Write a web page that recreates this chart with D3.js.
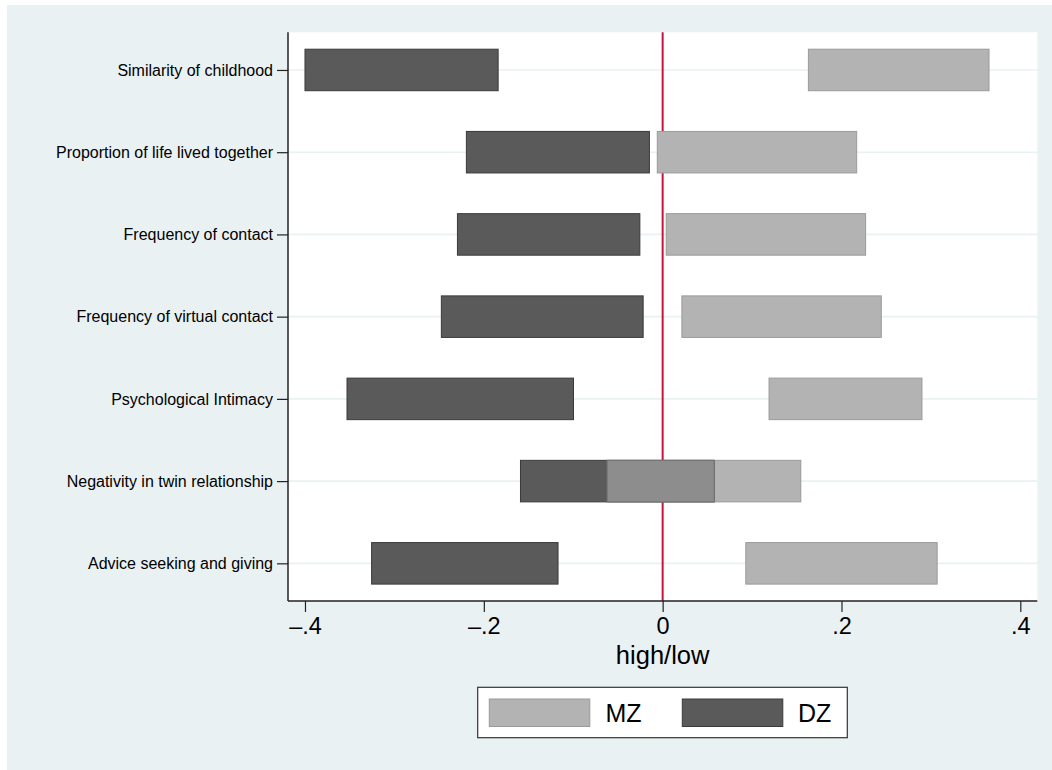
<!DOCTYPE html>
<html>
<head>
<meta charset="utf-8">
<script src="https://cdn.jsdelivr.net/npm/d3@7"></script>
<style>
  html, body { margin: 0; padding: 0; background: #ffffff; }
  svg { display: block; }
  text { font-family: "Liberation Sans", Arial, Helvetica, sans-serif; fill: #000; }
</style>
</head>
<body>
<svg id="chart" width="1052" height="770"></svg>
<script>
// Twin relationship measures, high/low ranges by zygosity
const categories = [
  "Similarity of childhood",
  "Proportion of life lived together",
  "Frequency of contact",
  "Frequency of virtual contact",
  "Psychological Intimacy",
  "Negativity in twin relationship",
  "Advice seeking and giving"
];
const mzLow  = [0.163, -0.006, 0.004, 0.0215, 0.119, -0.062, 0.093];
const mzHigh = [0.365,  0.217, 0.227, 0.2445, 0.290,  0.1545, 0.307];
const dzLow  = [-0.400, -0.2195, -0.2295, -0.2475, -0.353, -0.159, -0.3255];
const dzHigh = [-0.184, -0.0148, -0.0255, -0.0218, -0.0997, 0.0576, -0.117];
const tickValues = [-0.4, -0.2, 0, 0.2, 0.4];
const tickLabels = ["\u2013.4", "\u2013.2", "0", ".2", ".4"];
const seriesNames = ["MZ", "DZ"];

const svg = d3.select("#chart");

const outer = { x0: 7, y0: 5, x1: 1052, y1: 770 };
const plot = { left: 288, right: 1037.3, top: 32.3, bottom: 601 };

const colors = {
  bg: "#eaf1f3",
  mz: "#b3b3b3", mzStroke: "#9a9a9a",
  dz: "#5a5a5a", dzStroke: "#3a3a3a",
  both: "#8d8d8d", bothStroke: "#777777",
  grid: "#eaf1f3",
  ref: "#c8143c",
  axis: "#222222"
};

// outer graph region
svg.append("rect")
  .attr("x", outer.x0).attr("y", outer.y0)
  .attr("width", outer.x1 - outer.x0).attr("height", outer.y1 - outer.y0)
  .attr("fill", colors.bg);

// plot region
svg.append("rect")
  .attr("x", plot.left).attr("y", plot.top)
  .attr("width", plot.right - plot.left).attr("height", plot.bottom - plot.top)
  .attr("fill", "#ffffff");

const x = d3.scaleLinear().domain([-0.419, 0.419]).range([plot.left, plot.right]);
const y = d3.scalePoint().domain(categories).range([plot.top, plot.bottom]).padding(0.458);
const barH = y.step() * 0.505;

// horizontal grid lines at each category
svg.append("g").selectAll("line").data(categories).join("line")
  .attr("x1", plot.left).attr("x2", plot.right)
  .attr("y1", d => y(d)).attr("y2", d => y(d))
  .attr("stroke", colors.grid).attr("stroke-width", 1.6);

// reference line at zero
svg.append("line")
  .attr("x1", x(0)).attr("x2", x(0))
  .attr("y1", plot.top).attr("y2", plot.bottom)
  .attr("stroke", colors.ref).attr("stroke-width", 2);

const rows = categories.map((c, i) => ({
  c, mz: [mzLow[i], mzHigh[i]], dz: [dzLow[i], dzHigh[i]]
}));

function bars(cls, get, fill, stroke) {
  svg.append("g").attr("class", cls).selectAll("rect").data(rows.filter(r => get(r)[1] > get(r)[0])).join("rect")
    .attr("x", r => x(get(r)[0]))
    .attr("width", r => x(get(r)[1]) - x(get(r)[0]))
    .attr("y", r => y(r.c) - barH / 2)
    .attr("height", barH)
    .attr("fill", fill).attr("stroke", stroke).attr("stroke-width", 1);
}

bars("mz", r => r.mz, colors.mz, colors.mzStroke);
bars("dz", r => r.dz, colors.dz, colors.dzStroke);
// where the two ranges overlap
bars("both", r => [Math.max(r.mz[0], r.dz[0]), Math.min(r.mz[1], r.dz[1])], colors.both, colors.bothStroke);

// y axis
const yAxis = d3.axisLeft(y).tickSize(11).tickPadding(4);
const gy = svg.append("g").attr("transform", `translate(${plot.left},0)`).call(yAxis);
gy.select(".domain").attr("stroke", colors.axis).attr("stroke-width", 1.5)
  .attr("d", `M0,${plot.top}V${plot.bottom}`);
gy.selectAll(".tick line").attr("stroke", colors.axis).attr("stroke-width", 1.2);
gy.selectAll(".tick text").attr("font-size", 16)
  .attr("font-family", "'Liberation Sans', Arial, sans-serif").attr("fill", "#111");

// x axis
const xAxis = d3.axisBottom(x).tickValues(tickValues)
  .tickFormat((d, i) => tickLabels[i]).tickSize(11).tickPadding(5);
const gx = svg.append("g").attr("transform", `translate(0,${plot.bottom})`).call(xAxis);
gx.select(".domain").attr("stroke", colors.axis).attr("stroke-width", 1.5)
  .attr("d", `M${plot.left},0H${plot.right}`);
gx.selectAll(".tick line").attr("stroke", colors.axis).attr("stroke-width", 1.2);
gx.selectAll(".tick text").attr("font-size", 23.5)
  .attr("font-family", "'Liberation Sans', Arial, sans-serif").attr("fill", "#000");

svg.append("text")
  .attr("x", x(0)).attr("y", 664)
  .attr("text-anchor", "middle").attr("font-size", 25.5)
  .text("high/low");

// legend
const legend = svg.append("g");
legend.append("rect")
  .attr("x", 477.7).attr("y", 687.3).attr("width", 369.6).attr("height", 50.4)
  .attr("fill", "#ffffff").attr("stroke", "#333333").attr("stroke-width", 1.2);
const legendItems = [
  { name: seriesNames[0], fill: colors.mz, stroke: colors.mzStroke, x: 489.3, tx: 605.5 },
  { name: seriesNames[1], fill: colors.dz, stroke: colors.dzStroke, x: 682.3, tx: 798 }
];
legend.selectAll("rect.sw").data(legendItems).join("rect").attr("class", "sw")
  .attr("x", d => d.x).attr("y", 699).attr("width", 100.5).attr("height", 27.5)
  .attr("fill", d => d.fill).attr("stroke", d => d.stroke).attr("stroke-width", 1);
legend.selectAll("text").data(legendItems).join("text")
  .attr("x", d => d.tx).attr("y", 722).attr("font-size", 25)
  .text(d => d.name);
</script>
</body>
</html>
